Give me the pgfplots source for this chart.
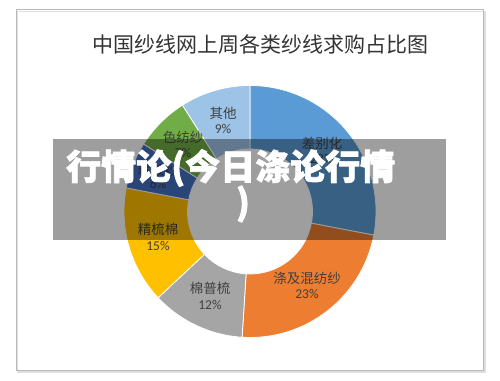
\documentclass[border=0pt]{standalone}
\usepackage{pgfplots}
\pgfplotsset{compat=1.18}
\usepackage{fontspec}
\setmainfont{Carlito}
\newfontfamily\cjk{Noto Sans CJK SC}
\newfontfamily\cjkheavy{Noto Sans CJK SC}[BoldFeatures={FakeBold=2}]
\definecolor{c1}{HTML}{5B9BD5}
\definecolor{c2}{HTML}{ED7D31}
\definecolor{c3}{HTML}{A5A5A5}
\definecolor{c4}{HTML}{FFC000}
\definecolor{c5}{HTML}{4472C4}
\definecolor{c6}{HTML}{70AD47}
\definecolor{c7}{HTML}{9DC3E6}
\definecolor{txt}{HTML}{404040}
\def\segstart{90}
\newcommand\seg[2]{%
  \pgfmathsetmacro\segend{\segstart-#1*3.6}%
  \edef\tmp{\noexpand\fill[#2,draw=white,line width=0.8pt] (axis cs:250,168.5) ++(\segstart:126pt) arc[start angle=\segstart,end angle=\segend,radius=126pt] -- ([shift={(\segend:62.5pt)}]axis cs:250,168.5) arc[start angle=\segend,end angle=\segstart,radius=62.5pt] -- cycle;}%
  \tmp
  \global\let\segstart\segend}
\begin{document}
\begin{tikzpicture}[x=1pt,y=1pt]
\path[use as bounding box] (0,0) rectangle (500,380);
\fill[white] (0,0) rectangle (500,380);
\draw[gray!25,line width=1.6pt] (17.5,8) rectangle (485,368.5);
\draw[gray!55,line width=1pt] (16,9.5) rectangle (483.5,370);
\begin{axis}[scale only axis, width=500pt, height=380pt, xmin=0, xmax=500, ymin=0, ymax=380,
  hide axis, clip=false, at={(0,0)}, anchor=south west]
\seg{28}{c1}
\seg{23}{c2}
\seg{12}{c3}
\seg{15}{c4}
\seg{6}{c5}
\seg{7}{c6}
\seg{9}{c7}
\begin{scope}[every node/.style={text=txt,font=\fontsize{13.5}{13.5}\selectfont}]
\node at (axis cs:223,267) {\cjk 其他};
\node at (axis cs:223,251) {9\%};
\node at (axis cs:183,243) {\cjk 色纺纱};
\node at (axis cs:183,227) {7\%};
\node at (axis cs:158,210) {\cjk 粘胶纱};
\node at (axis cs:158,196) {6\%};
\node at (axis cs:158,151) {\cjk 精梳棉};
\node at (axis cs:158,134) {15\%};
\node at (axis cs:210,92) {\cjk 棉普梳};
\node at (axis cs:210,75) {12\%};
\node at (axis cs:307,102) {\cjk 涤及混纺纱};
\node at (axis cs:307,86) {23\%};
\node at (axis cs:322,237) {\cjk 差别化};
\node at (axis cs:322,221) {28\%};
\end{scope}
\node[text=black!80,font=\cjk\fontsize{21}{21}\selectfont] at (axis cs:260,335) {中国纱线网上周各类纱线求购占比图};
\end{axis}
\fill[black,opacity=0.38] (53,140) rectangle (446,241);
\node[anchor=west,text=white,font=\cjkheavy\bfseries\fontsize{35}{35}\selectfont,inner sep=0pt] at (66,212) {行情论(今日涤论行情};
\node[text=white,font=\cjkheavy\bfseries\fontsize{35}{35}\selectfont,inner sep=0pt] at (243,176) {)};
\end{tikzpicture}
\end{document}
